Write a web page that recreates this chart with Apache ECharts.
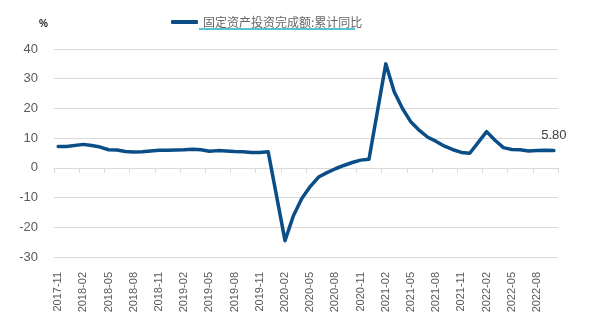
<!DOCTYPE html>
<html><head><meta charset="utf-8">
<script src="https://cdn.jsdelivr.net/npm/echarts@6/dist/echarts.min.js"></script>
<style>html,body{margin:0;padding:0;background:#fff}#c{width:589px;height:323px}</style>
</head><body><div id="c"></div>
<script>
const seriesName = '固定资产投资完成额:累计同比';
const months = [
 '2017-11','2017-12',
 '2018-01','2018-02','2018-03','2018-04','2018-05','2018-06','2018-07','2018-08','2018-09','2018-10','2018-11','2018-12',
 '2019-01','2019-02','2019-03','2019-04','2019-05','2019-06','2019-07','2019-08','2019-09','2019-10','2019-11','2019-12',
 '2020-01','2020-02','2020-03','2020-04','2020-05','2020-06','2020-07','2020-08','2020-09','2020-10','2020-11','2020-12',
 '2021-01','2021-02','2021-03','2021-04','2021-05','2021-06','2021-07','2021-08','2021-09','2021-10','2021-11','2021-12',
 '2022-01','2022-02','2022-03','2022-04','2022-05','2022-06','2022-07','2022-08','2022-09','2022-10'
];
const values = [
 7.2, 7.2,
 null, 7.9, 7.5, 7.0, 6.1, 6.0, 5.5, 5.3, 5.4, 5.7, 5.9, 5.9,
 null, 6.1, 6.3, 6.1, 5.6, 5.8, 5.7, 5.5, 5.4, 5.2, 5.2, 5.4,
 null, -24.5, -16.1, -10.3, -6.3, -3.1, -1.6, -0.3, 0.8, 1.8, 2.6, 2.9,
 null, 35.0, 25.6, 19.9, 15.4, 12.6, 10.3, 8.9, 7.3, 6.1, 5.2, 4.9,
 null, 12.2, 9.3, 6.8, 6.2, 6.1, 5.7, 5.8, 5.9, 5.8
];
const yTicks = {min: -30, max: 40, step: 10};

const lastIdx = values.length - 1;
const seriesData = values.map((v, i) => i === lastIdx
  ? {value: v, label: {show: true, formatter: p => Number(p.value).toFixed(2)}}
  : v);

const chart = echarts.init(document.getElementById('c'));
const lineColor = '#0B4E87';
const gridColor = '#D9D9D9';
const txt = '#595959';
chart.setOption({
  animation: false,
  title: {text: '%', left: 34, top: 14, textStyle: {fontSize: 10, fontWeight: 'bold', color: '#222', fontFamily: 'Liberation Sans'}},
  legend: {
    left: 166, top: 11, icon: 'roundRect', itemWidth: 27, itemHeight: 4, itemGap: 10,
    textStyle: {fontSize: 12, color: '#666', fontFamily: 'Noto Sans CJK SC'},
    data: [seriesName]
  },
  graphic: [{type: 'line', shape: {x1: 199, y1: 29, x2: 355, y2: 29}, style: {stroke: '#1CAFC4', lineWidth: 1.5}}],
  grid: {left: 54, right: 31, top: 49, bottom: 66},
  xAxis: [{
    type: 'category', data: months, boundaryGap: true, position: 'bottom',
    axisLine: {show: true, onZero: true, onZeroAxisIndex: 0, lineStyle: {color: gridColor, width: 1}},
    axisTick: {show: true, interval: 2, length: 5, lineStyle: {color: gridColor, width: 1}},
    axisLabel: {show: false}
  }, {
    type: 'category', data: months, boundaryGap: true, position: 'bottom',
    axisLine: {show: false, onZero: false}, axisTick: {show: false},
    axisLabel: {interval: 2, rotate: 90, margin: 15, fontSize: 11, color: txt, fontFamily: 'Liberation Sans'}
  }],
  yAxis: {
    type: 'value', min: yTicks.min, max: yTicks.max, interval: yTicks.step,
    axisLine: {show: false}, axisTick: {show: false},
    axisLabel: {margin: 16, fontSize: 13, color: txt, fontFamily: 'Liberation Sans'},
    splitLine: {lineStyle: {color: gridColor, width: 1}}
  },
  series: [{
    name: seriesName, type: 'line', xAxisIndex: 0, data: seriesData, connectNulls: true,
    smooth: false, showSymbol: true, showAllSymbol: true, symbol: 'circle', symbolSize: 0.1,
    lineStyle: {color: lineColor, width: 3.5, cap: 'round', join: 'round'}, itemStyle: {color: lineColor},
    label: {show: false, position: 'top', distance: 9, fontSize: 13, color: '#404040', fontFamily: 'Liberation Sans'}
  }]
});
</script></body></html>
